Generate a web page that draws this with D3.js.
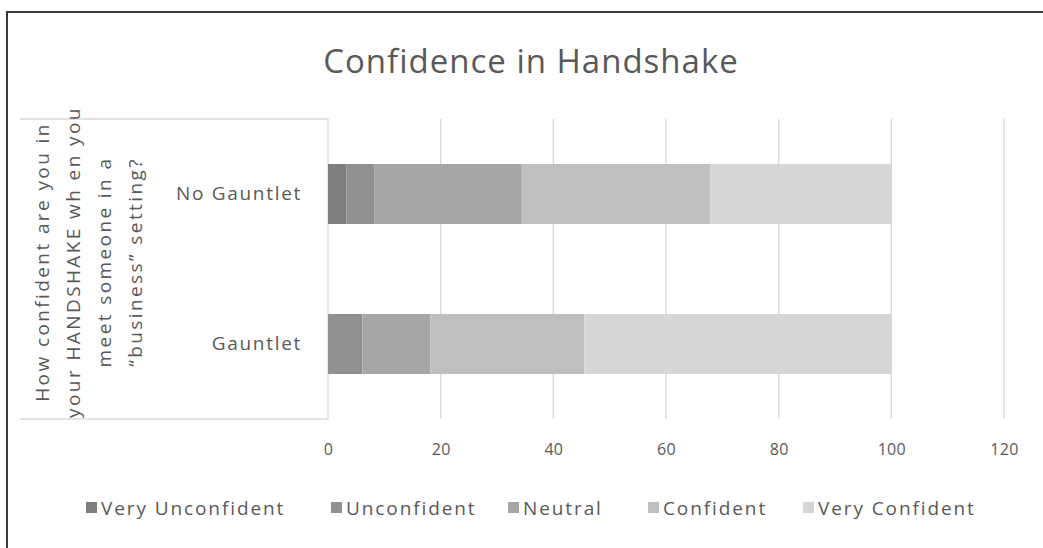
<!DOCTYPE html>
<html>
<head>
<meta charset="utf-8">
<script src="https://cdn.jsdelivr.net/npm/d3@7"></script>
<style>
  body { margin: 0; background: #fff; }
  text { font-family: "Open Sans", sans-serif; fill: #595959; }
</style>
</head>
<body>
<script>
// chart data
var categories = ['No Gauntlet', 'Gauntlet'];
var seriesNames = ['Very Unconfident', 'Unconfident', 'Neutral', 'Confident', 'Very Confident'];
var noGauntlet = [3.3, 4.9, 26.2, 33.5, 32.1];
var gauntlet = [0, 6.1, 12.1, 27.3, 54.5];
var xTicks = [0, 20, 40, 60, 80, 100, 120];
var seriesColors = ['#7e7e7e', '#919191', '#a6a6a6', '#bfbfbf', '#d6d6d6'];
var axisTitle = ['How confident are you in', 'your HANDSHAKE wh en you', 'meet someone in a', '\u201cbusiness\u201d setting?'];

(function() {
    var w = 1043,
        h = 548;
    var plot = {left: 328, right: 1004, top: 119, bottom: 419};

    var svg = d3.select('body')
        .append('svg')
        .attr('width', w)
        .attr('height', h);

    // outer frame (only top and left visible in the screenshot)
    svg.append('path')
        .attr('d', 'M7,' + h + 'V12H' + w)
        .attr('fill', 'none')
        .attr('stroke', '#3a3a3a')
        .attr('stroke-width', 2);

    svg.append('text')
        .attr('x', 531)
        .attr('y', 73)
        .attr('text-anchor', 'middle')
        .style('font-size', '33px')
        .style('letter-spacing', '1px')
        .text('Confidence in Handshake');

    var table = categories.map(function(c, i) {
        var row = {category: c};
        var vals = i === 0 ? noGauntlet : gauntlet;
        seriesNames.forEach(function(s, j) { row[s] = vals[j]; });
        return row;
    });
    var stacked = d3.stack().keys(seriesNames)(table);

    var x = d3.scaleLinear()
        .domain([0, 120])
        .range([plot.left, plot.right]);
    var y = d3.scaleBand()
        .domain(categories)
        .range([plot.top, plot.bottom])
        .paddingInner(0.6)
        .paddingOuter(0.3);

    // gridlines
    svg.append('g')
        .selectAll('line')
        .data(xTicks.slice(1))
        .enter()
        .append('line')
        .attr('x1', x).attr('x2', x)
        .attr('y1', plot.top).attr('y2', plot.bottom)
        .attr('stroke', '#d9d9d9')
        .attr('stroke-width', 1.3);

    // category box for the axis title
    svg.append('path')
        .attr('d', 'M20,' + plot.top + 'H' + plot.left + 'V' + plot.bottom + 'H20')
        .attr('fill', 'none')
        .attr('stroke', '#d9d9d9')
        .attr('stroke-width', 1.3);

    // bars
    svg.append('g')
        .selectAll('g')
        .data(stacked)
        .enter()
        .append('g')
        .attr('fill', function(d, i) { return seriesColors[i]; })
        .selectAll('rect')
        .data(function(d) { return d; })
        .enter()
        .append('rect')
        .attr('x', function(d) { return x(d[0]); })
        .attr('width', function(d) { return x(d[1]) - x(d[0]); })
        .attr('y', function(d) { return y(d.data.category); })
        .attr('height', y.bandwidth());

    // x axis labels
    var xAxis = svg.append('g')
        .attr('transform', 'translate(0,' + (plot.bottom + 13) + ')')
        .call(d3.axisBottom(x).tickValues(xTicks).tickSize(0).tickPadding(12));
    xAxis.select('.domain').remove();
    xAxis.selectAll('text')
        .style('font-size', '16px')
        .style('letter-spacing', '0.3px')
        .attr('fill', '#595959');

    // category labels
    var yAxis = svg.append('g')
        .attr('transform', 'translate(' + (plot.left - 26) + ',0)')
        .call(d3.axisLeft(y).tickSize(0).tickPadding(0));
    yAxis.select('.domain').remove();
    yAxis.selectAll('text')
        .style('font-size', '19px')
        .style('letter-spacing', '1.7px')
        .attr('fill', '#595959');

    // rotated axis title
    var t = svg.append('text')
        .attr('transform', 'translate(88,262) rotate(-90)')
        .attr('text-anchor', 'middle')
        .style('font-size', '19px')
        .style('letter-spacing', '2.4px');
    t.selectAll('tspan')
        .data(axisTitle)
        .enter()
        .append('tspan')
        .attr('x', 0)
        .attr('y', function(d, i) { return (i - 1.5) * 31 + 7; })
        .text(function(d) { return d; });

    // legend
    var legendX = [86, 331, 508, 648, 803];
    var legend = svg.append('g')
        .selectAll('g')
        .data(seriesNames)
        .enter()
        .append('g')
        .attr('transform', function(d, i) { return 'translate(' + legendX[i] + ',508)'; });
    legend.append('rect')
        .attr('x', 0).attr('y', -6)
        .attr('width', 11).attr('height', 11)
        .attr('fill', function(d, i) { return seriesColors[i]; });
    legend.append('text')
        .attr('x', 15)
        .attr('y', 7)
        .style('font-size', '19px')
        .style('letter-spacing', '1.9px')
        .text(function(d) { return d; });
})();
</script>
</body>
</html>
